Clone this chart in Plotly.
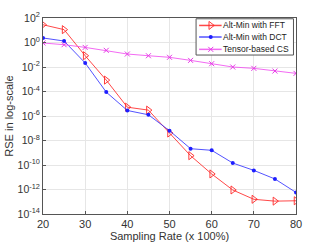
import plotly.graph_objects as go

x = [20, 25, 30, 35, 40, 45, 50, 55, 60, 65, 70, 75, 80]
log_fft = [1.45, 1.05, -1.08, -3.07, -5.28, -5.52, -7.39, -9.24, -10.73, -12.04, -12.8, -12.95, -12.92]
log_dct = [0.37, 0.12, -1.67, -4.05, -5.55, -5.9, -7.2, -8.67, -8.8, -9.84, -10.44, -11.14, -12.24]
log_cs = [-0.04, -0.18, -0.4, -0.64, -0.94, -1.08, -1.21, -1.46, -1.73, -2.0, -2.11, -2.33, -2.52]
fft = [10 ** v for v in log_fft]
dct = [10 ** v for v in log_dct]
cs = [10 ** v for v in log_cs]

names = ["Alt-Min with FFT", "Alt-Min with DCT", "Tensor-based CS"]
xticks = [20, 30, 40, 50, 60, 70, 80]
yexp = [2, 0, -2, -4, -6, -8, -10, -12, -14]
ytickvals = [10 ** e for e in yexp]
yticktext = ["10<sup>%d</sup>" % e for e in yexp]

font = "Liberation Sans, Arial, sans-serif"
txt = "#333333"

styles = [
    dict(line=dict(color="rgba(255,40,40,0.85)", width=1),
         marker=dict(symbol="triangle-right-open", size=7, color="rgba(255,40,40,0.9)", line=dict(width=1))),
    dict(line=dict(color="rgba(40,40,255,0.8)", width=1),
         marker=dict(symbol="circle", size=4, color="rgb(30,30,255)")),
    dict(line=dict(color="rgba(240,80,240,0.85)", width=1),
         marker=dict(symbol="x-thin-open", size=5, color="rgb(230,60,230)",
                     line=dict(width=1, color="rgb(230,60,230)"))),
]

fig = go.Figure()
for ys, nm, st in zip([fft, dct, cs], names, styles):
    fig.add_trace(go.Scatter(x=x, y=ys, name=nm, mode="lines+markers", showlegend=False, **st))

# custom compact legend drawn on an overlay axis (0..1 over plot area)
bx0, bx1, by0, by1 = 0.605, 0.99, 0.811, 0.996
fig.add_trace(go.Scatter(x=[bx0, bx1, bx1, bx0, bx0], y=[by0, by0, by1, by1, by0], mode="lines",
                         fill="toself", fillcolor="white", line=dict(color="#555555", width=1),
                         xaxis="x2", yaxis="y2", showlegend=False, hoverinfo="skip"))
leg_rows = [0.962, 0.903, 0.840]
for yr, nm, st in zip(leg_rows, names, styles):
    fig.add_trace(go.Scatter(x=[0.617, 0.706], y=[yr, yr], mode="lines", xaxis="x2", yaxis="y2",
                             showlegend=False, hoverinfo="skip",
                             line=dict(color=st["line"]["color"], width=1.5)))
    fig.add_trace(go.Scatter(x=[0.663], y=[yr], mode="markers", xaxis="x2", yaxis="y2",
                             showlegend=False, hoverinfo="skip", marker=st["marker"]))
    fig.add_annotation(x=0.708, y=yr, xref="x2", yref="y2", text=nm, showarrow=False,
                       xanchor="left", yanchor="middle", borderpad=0,
                       font=dict(family=font, size=8.5, color="#222222"))

axis_common = dict(showline=True, linecolor="#555555", linewidth=1, mirror=True,
                   ticks="inside", ticklen=3, tickcolor="#555555", automargin=False,
                   showgrid=True, gridcolor="#e6e6e6", gridwidth=1, zeroline=False)

fig.update_layout(
    width=327, height=245,
    margin=dict(l=43, r=31, t=18, b=31),
    paper_bgcolor="white", plot_bgcolor="white",
    font=dict(family=font, size=9, color=txt),
    showlegend=False,
    xaxis=dict(range=[20, 80], tickvals=xticks, tickfont=dict(family=font, size=11, color=txt),
               title=dict(text="Sampling Rate (x 100%)", font=dict(family=font, size=11, color=txt), standoff=1),
               **axis_common),
    yaxis=dict(type="log", range=[-14, 2], tickvals=ytickvals, ticktext=yticktext,
               tickfont=dict(family=font, size=10.5, color=txt),
               title=dict(text="RSE in log-scale", font=dict(family=font, size=11, color=txt), standoff=1),
               **axis_common),
    xaxis2=dict(range=[0, 1], overlaying="x", anchor="y2", visible=False, fixedrange=True),
    yaxis2=dict(range=[0, 1], overlaying="y", anchor="x2", visible=False, fixedrange=True),
)

fig.write_html("out.html", config={"displayModeBar": False, "staticPlot": True},
               post_script="document.body.style.margin='0';document.body.style.overflow='hidden';")
